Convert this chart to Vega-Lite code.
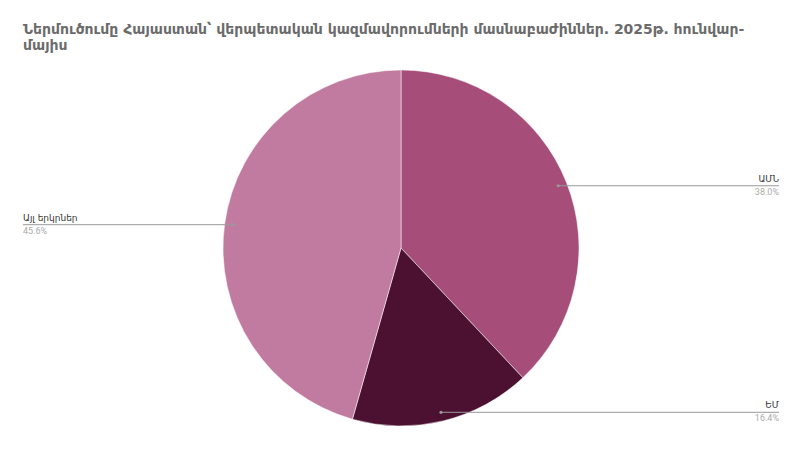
{
  "$schema": "https://vega.github.io/schema/vega-lite/v6.json",
  "width": 756,
  "height": 356,
  "padding": {"left": 22, "right": 22, "top": 23, "bottom": 18},
  "title": {
    "text": ["Ներմուծումը Հայաստան՝ վերպետական կազմավորումների մասնաբաժիններ. 2025թ. հունվար-", "մայիս"],
    "anchor": "start",
    "frame": "group",
    "font": "DejaVu Sans",
    "fontSize": 14,
    "fontWeight": "bold",
    "lineHeight": 16,
    "color": "#6b6b6b",
    "offset": 16
  },
  "data": {
    "values": [
      {"region": "ԱՄՆ", "share": 38.0, "order": 1},
      {"region": "ԵՄ", "share": 16.4, "order": 2},
      {"region": "Այլ երկրներ", "share": 45.6, "order": 3}
    ]
  },
  "transform": [
    {"joinaggregate": [{"op": "sum", "field": "share", "as": "total"}]},
    {"window": [{"op": "sum", "field": "share", "as": "cum"}], "sort": [{"field": "order"}], "frame": [null, 0]},
    {"calculate": "(datum.cum - datum.share / 2) / datum.total * 2 * PI", "as": "mid"},
    {"calculate": "sin(datum.mid) * 0.95", "as": "px"},
    {"calculate": "cos(datum.mid) * 0.95", "as": "py"},
    {"calculate": "datum.px > 0 ? 1 : -1", "as": "side"},
    {"calculate": "datum.side * 2.1236", "as": "ex"},
    {"calculate": "format(datum.share, '.1f') + '%'", "as": "pct"}
  ],
  "layer": [
    {
      "mark": {"type": "arc", "radius": 178, "stroke": "#ffffff", "strokeWidth": 0.5},
      "encoding": {
        "theta": {"field": "share", "type": "quantitative", "stack": true},
        "order": {"field": "order", "type": "quantitative"},
        "color": {
          "field": "region",
          "type": "nominal",
          "scale": {"domain": ["ԱՄՆ", "ԵՄ", "Այլ երկրներ"], "range": ["#a64d79", "#4c1130", "#c27ba0"]},
          "legend": null
        }
      }
    },
    {
      "mark": {"type": "rule", "color": "#999999", "strokeWidth": 1},
      "encoding": {
        "x": {"field": "px", "type": "quantitative", "scale": {"domain": [-2.1236, 2.1236], "nice": false, "zero": false}, "axis": null},
        "x2": {"field": "ex"},
        "y": {"field": "py", "type": "quantitative", "scale": {"domain": [-1, 1], "nice": false, "zero": false}, "axis": null}
      }
    },
    {
      "mark": {"type": "circle", "color": "#999999", "size": 10, "opacity": 1},
      "encoding": {
        "x": {"field": "px", "type": "quantitative"},
        "y": {"field": "py", "type": "quantitative"}
      }
    },
    {
      "transform": [{"filter": "datum.side > 0"}],
      "mark": {"type": "text", "align": "right", "baseline": "middle", "dy": -7, "font": "DejaVu Sans", "fontSize": 9, "color": "#333333"},
      "encoding": {
        "x": {"field": "ex", "type": "quantitative"},
        "y": {"field": "py", "type": "quantitative"},
        "text": {"field": "region"}
      }
    },
    {
      "transform": [{"filter": "datum.side > 0"}],
      "mark": {"type": "text", "align": "right", "baseline": "middle", "dy": 6, "font": "Roboto", "fontSize": 9, "color": "#aaaaaa"},
      "encoding": {
        "x": {"field": "ex", "type": "quantitative"},
        "y": {"field": "py", "type": "quantitative"},
        "text": {"field": "pct"}
      }
    },
    {
      "transform": [{"filter": "datum.side < 0"}],
      "mark": {"type": "text", "align": "left", "baseline": "middle", "dy": -7, "font": "DejaVu Sans", "fontSize": 9, "color": "#333333"},
      "encoding": {
        "x": {"field": "ex", "type": "quantitative"},
        "y": {"field": "py", "type": "quantitative"},
        "text": {"field": "region"}
      }
    },
    {
      "transform": [{"filter": "datum.side < 0"}],
      "mark": {"type": "text", "align": "left", "baseline": "middle", "dy": 6, "font": "Roboto", "fontSize": 9, "color": "#aaaaaa"},
      "encoding": {
        "x": {"field": "ex", "type": "quantitative"},
        "y": {"field": "py", "type": "quantitative"},
        "text": {"field": "pct"}
      }
    }
  ],
  "config": {"view": {"stroke": null}, "background": "#ffffff"}
}
